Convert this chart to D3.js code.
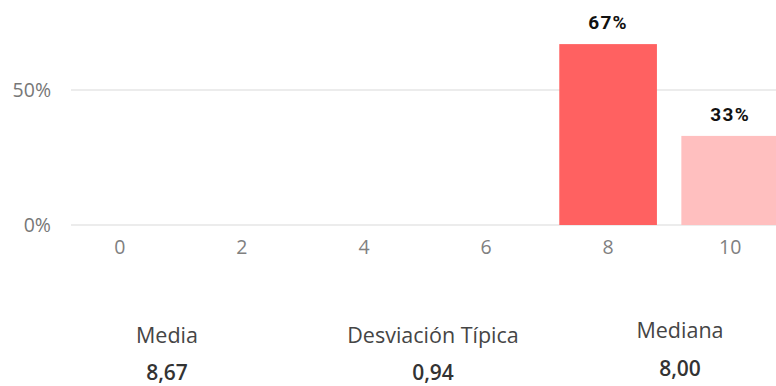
<!DOCTYPE html>
<html>
<head>
<meta charset="utf-8">
<script src="https://cdn.jsdelivr.net/npm/d3@7"></script>
<style>
  html, body { margin: 0; padding: 0; background: #fff; }
  svg { display: block; }
</style>
</head>
<body>
<svg id="chart" width="776" height="386"></svg>
<script>
// Score distribution (share of answers per score)
const categories = ["0", "2", "4", "6", "8", "10"];
const shares = [0, 0, 0, 0, 0.67, 0.33];
const shareLabels = ["", "", "", "", "67%", "33%"];
const barColors = ["#ff6161", "#ff6161", "#ff6161", "#ff6161", "#ff6161", "#ffbfbf"];
const yTicks = [0, 0.5];

// Summary statistics shown under the chart
const statNames = ["Media", "Desviación Típica", "Mediana"];
const statValues = ["8,67", "0,94", "8,00"];

const svg = d3.select("#chart");
const W = 776;
const sans = "'Open Sans', 'Noto Sans', sans-serif";

const x = d3.scaleBand()
  .domain(categories)
  .range([71, 779])
  .paddingInner(0.2)
  .paddingOuter(0);

const y = d3.scaleLinear()
  .domain([0, 1])
  .range([225, -45]);

// Horizontal gridlines
svg.append("g")
  .selectAll("line")
  .data(yTicks)
  .join("line")
  .attr("x1", 71)
  .attr("x2", W)
  .attr("y1", d => y(d))
  .attr("y2", d => y(d))
  .attr("stroke", "#e6e6e6")
  .attr("stroke-width", 1.5);

// Y axis labels
const yAxis = d3.axisLeft(y)
  .tickValues(yTicks)
  .tickFormat(d3.format(".0%"))
  .tickSize(0)
  .tickPadding(0);

svg.append("g")
  .attr("transform", "translate(51,0)")
  .call(yAxis)
  .call(g => g.select(".domain").remove())
  .call(g => g.selectAll("text")
    .attr("fill", "#777")
    .style("font-family", sans)
    .style("font-size", "19.5px"));

// Bars
svg.append("g")
  .selectAll("rect")
  .data(categories)
  .join("rect")
  .attr("x", d => x(d))
  .attr("width", x.bandwidth())
  .attr("y", (d, i) => y(shares[i]))
  .attr("height", (d, i) => y(0) - y(shares[i]))
  .attr("fill", (d, i) => barColors[i]);

// Value labels above bars
svg.append("g")
  .selectAll("text")
  .data(categories)
  .join("text")
  .attr("x", d => x(d) + x.bandwidth() / 2)
  .attr("y", (d, i) => y(shares[i]) - 15)
  .attr("text-anchor", "middle")
  .attr("fill", "#111")
  .style("font-family", "Roboto, sans-serif")
  .style("font-weight", "700")
  .style("font-size", "19px")
  .style("letter-spacing", "1.3px")
  .text((d, i) => shareLabels[i]);

// X axis labels
const xAxis = d3.axisBottom(x).tickSize(0).tickPadding(0);
svg.append("g")
  .attr("transform", "translate(0,225)")
  .call(xAxis)
  .call(g => g.select(".domain").remove())
  .call(g => g.selectAll("text")
    .attr("dy", null)
    .attr("y", 29)
    .attr("fill", "#808080")
    .style("font-family", sans)
    .style("font-size", "19.5px"));

// Summary statistics
const statX = [167, 433, 680];
const nameY = [343, 343, 338];
const valueY = [380, 380, 376];

const stats = svg.append("g")
  .selectAll("g")
  .data(statNames)
  .join("g");

stats.append("text")
  .attr("x", (d, i) => statX[i])
  .attr("y", (d, i) => nameY[i])
  .attr("text-anchor", "middle")
  .attr("fill", "#454545")
  .style("font-family", sans)
  .style("font-size", "21.5px")
  .text(d => d);

stats.append("text")
  .attr("x", (d, i) => statX[i])
  .attr("y", (d, i) => valueY[i])
  .attr("text-anchor", "middle")
  .attr("fill", "#333")
  .style("font-family", sans)
  .style("font-weight", "600")
  .style("font-size", "21px")
  .text((d, i) => statValues[i]);
</script>
</body>
</html>
